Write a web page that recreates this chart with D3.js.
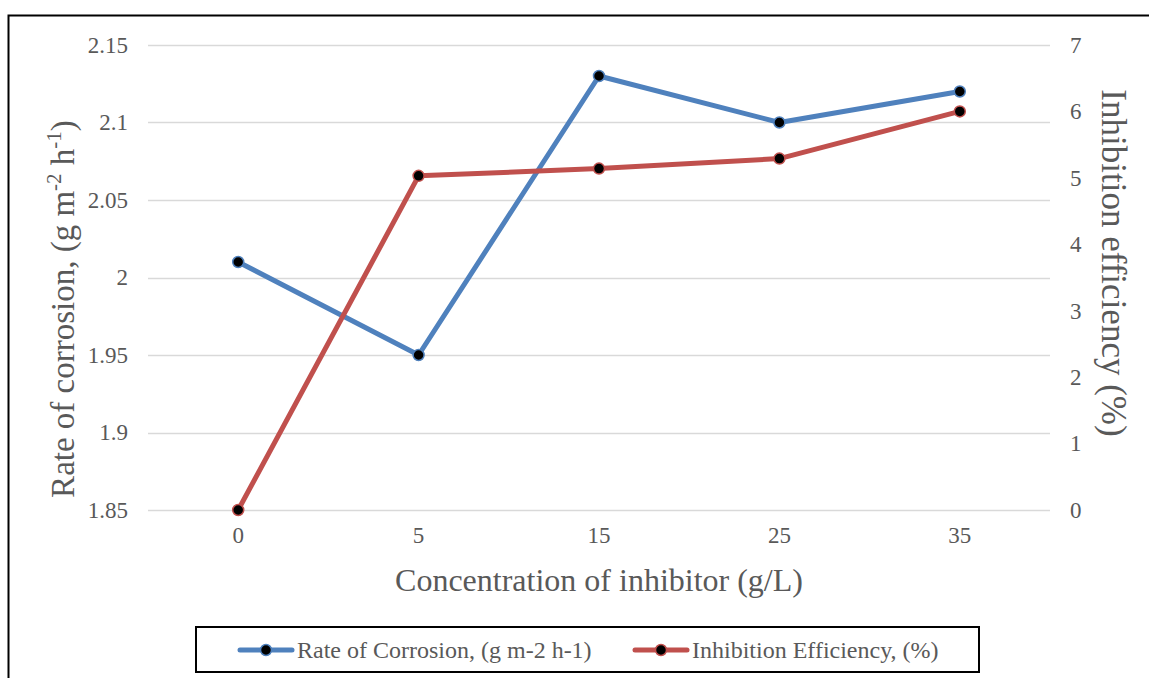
<!DOCTYPE html>
<html>
<head>
<meta charset="utf-8">
<script src="https://cdn.jsdelivr.net/npm/d3@7"></script>
<style>
  html, body { margin: 0; padding: 0; background: #fff; }
  svg { display: block; }
  text { font-family: "Liberation Serif", "Times New Roman", serif; }
</style>
</head>
<body>
<svg id="chart" width="1149" height="678"></svg>
<script>
// Concentration of inhibitor (g/L)
const categories = ["0", "5", "15", "25", "35"];
// Rate of corrosion (g m-2 h-1)
const corrosionRate = [2.01, 1.95, 2.13, 2.10, 2.12];
// Inhibition efficiency (%)
const inhibitionEff = [0, 5.03, 5.14, 5.29, 6.0];
const leftTicks = [1.85, 1.9, 1.95, 2.0, 2.05, 2.1, 2.15];
const rightTicks = [0, 1, 2, 3, 4, 5, 6, 7];

const blue = "#4F81BD", red = "#C0504D", textGray = "#595959", gridGray = "#D9D9D9";

const svg = d3.select("#chart");
const plot = { left: 148, right: 1050, top: 45, bottom: 510 };

// outer frame
svg.append("rect")
  .attr("x", 8.5).attr("y", 15.5).attr("width", 1160).attr("height", 700)
  .attr("fill", "none").attr("stroke", "#000").attr("stroke-width", 2);

const x = d3.scaleBand().domain(categories).range([plot.left, plot.right]);
const yL = d3.scaleLinear().domain([1.85, 2.15]).range([plot.bottom, plot.top]);
const yR = d3.scaleLinear().domain([0, 7]).range([plot.bottom, plot.top]);

// gridlines from primary axis
svg.append("g").selectAll("line").data(leftTicks).join("line")
  .attr("x1", plot.left).attr("x2", plot.right)
  .attr("y1", d => Math.round(yL(d)) + 0.5).attr("y2", d => Math.round(yL(d)) + 0.5)
  .attr("stroke", gridGray).attr("stroke-width", 1.5);

// left axis
const axL = svg.append("g").attr("transform", `translate(${plot.left},0)`)
  .call(d3.axisLeft(yL).tickValues(leftTicks).tickSize(0).tickPadding(20).tickFormat(d3.format("")));
axL.select(".domain").remove();
axL.selectAll("text").attr("font-size", 23).attr("fill", textGray)
  .attr("font-family", "Liberation Serif");

// right axis
const axR = svg.append("g").attr("transform", `translate(${plot.right},0)`)
  .call(d3.axisRight(yR).tickValues(rightTicks).tickSize(0).tickPadding(20).tickFormat(d3.format("d")));
axR.select(".domain").remove();
axR.selectAll("text").attr("font-size", 23).attr("fill", textGray)
  .attr("font-family", "Liberation Serif");

// bottom axis
const axB = svg.append("g").attr("transform", `translate(0,${plot.bottom})`)
  .call(d3.axisBottom(x).tickSize(0).tickPadding(17));
axB.select(".domain").remove();
axB.selectAll("text").attr("font-size", 23).attr("fill", textGray)
  .attr("font-family", "Liberation Serif");

// axis titles
svg.append("text")
  .attr("x", x.range()[0] + (x.range()[1] - x.range()[0]) / 2).attr("y", 591)
  .attr("text-anchor", "middle").attr("font-size", 32).attr("fill", textGray)
  .text("Concentration of inhibitor (g/L)");

const lt = svg.append("text")
  .attr("transform", "translate(74,309) rotate(-90)")
  .attr("text-anchor", "middle").attr("font-size", 33).attr("fill", textGray);
lt.append("tspan").text("Rate of corrosion, (g m");
lt.append("tspan").attr("font-size", 21).attr("dy", -13).text("-2");
lt.append("tspan").attr("dy", 13).text(" h");
lt.append("tspan").attr("font-size", 21).attr("dy", -13).text("-1");
lt.append("tspan").attr("dy", 13).text(")");

svg.append("text")
  .attr("transform", "translate(1102,263) rotate(90)")
  .attr("text-anchor", "middle").attr("font-size", 35).attr("fill", textGray)
  .text("Inhibition efficiency (%)");

// series
const cx = (d, i) => x(categories[i]) + x.bandwidth() / 2;
const series = [
  { values: corrosionRate, y: yL, color: blue },
  { values: inhibitionEff, y: yR, color: red }
];
series.forEach(s => {
  const line = d3.line().x((d, i) => cx(d, i)).y(d => s.y(d));
  svg.append("path").datum(s.values)
    .attr("d", line).attr("fill", "none")
    .attr("stroke", s.color).attr("stroke-width", 5)
    .attr("stroke-linejoin", "round").attr("stroke-linecap", "round");
  svg.append("g").selectAll("circle").data(s.values).join("circle")
    .attr("cx", (d, i) => cx(d, i)).attr("cy", d => s.y(d)).attr("r", 5.5)
    .attr("fill", "#000").attr("stroke", s.color).attr("stroke-width", 1.5);
});

// legend
const lg = svg.append("g");
lg.append("rect").attr("x", 196).attr("y", 627).attr("width", 783).attr("height", 45)
  .attr("fill", "#fff").attr("stroke", "#000").attr("stroke-width", 2);
const legendItems = [
  { label: "Rate of Corrosion, (g m-2 h-1)", color: blue, x0: 240 },
  { label: "Inhibition Efficiency, (%)", color: red, x0: 635 }
];
legendItems.forEach(it => {
  lg.append("line").attr("x1", it.x0).attr("x2", it.x0 + 52).attr("y1", 650).attr("y2", 650)
    .attr("stroke", it.color).attr("stroke-width", 5).attr("stroke-linecap", "round");
  lg.append("circle").attr("cx", it.x0 + 26).attr("cy", 650).attr("r", 5.5)
    .attr("fill", "#000").attr("stroke", it.color).attr("stroke-width", 1.5);
  lg.append("text").attr("x", it.x0 + 57).attr("y", 658).attr("font-size", 24)
    .attr("fill", textGray).text(it.label);
});
</script>
</body>
</html>
